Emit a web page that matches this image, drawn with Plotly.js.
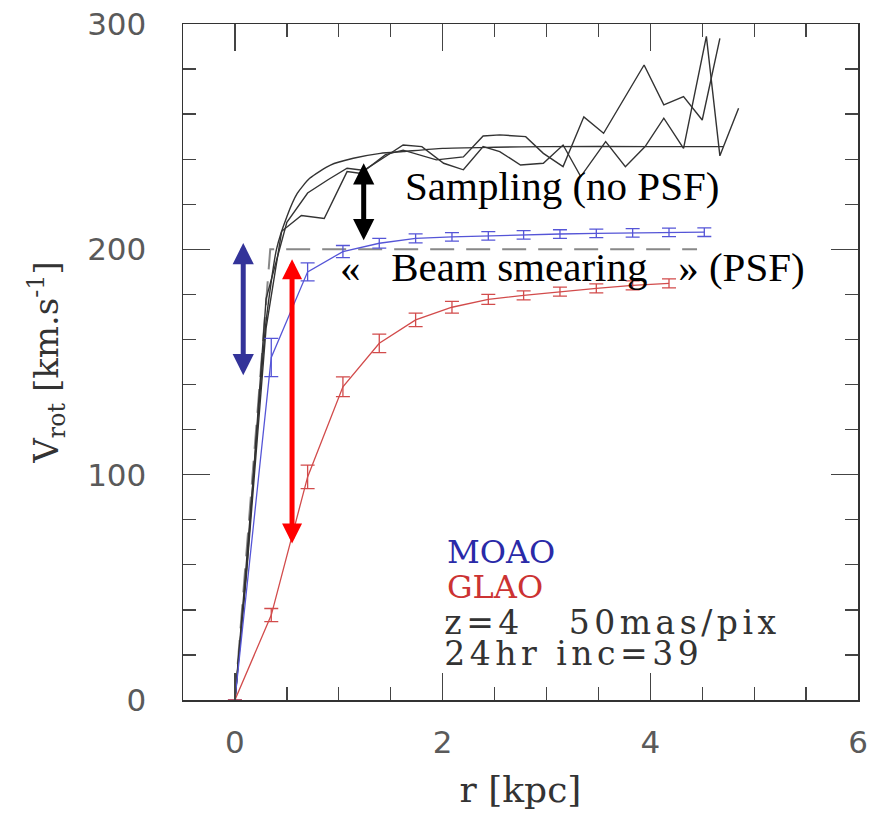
<!DOCTYPE html>
<html><head><meta charset="utf-8">
<script src="https://cdn.plot.ly/plotly-3.0.1.min.js"></script>
<style>
html,body{margin:0;padding:0;background:#fff}
g.annotation[data-index="7"] text, g.annotation[data-index="8"] text{letter-spacing:4.5px}
</style>
</head><body><div id="chart" style="width:882px;height:814px"></div>
<script>
// ---- data ----
const moaoR   = [0, 0.35, 0.70, 1.04, 1.39, 1.74, 2.09, 2.44, 2.78, 3.13, 3.48, 3.83, 4.18, 4.52];
const moaoV   = [0, 152, 190, 199, 202.7, 204.9, 205.5, 206, 206.4, 206.8, 207.1, 207.3, 207.5, 207.6];
const moaoErr = [0, 8.5, 4, 2.7, 2.2, 2, 1.9, 1.9, 1.9, 1.9, 1.9, 1.9, 1.9, 1.9];

const glaoR   = [0, 0.35, 0.70, 1.04, 1.39, 1.74, 2.09, 2.44, 2.78, 3.13, 3.48, 3.83, 4.18];
const glaoV   = [0, 37.7, 99, 139, 158.3, 168.7, 174.3, 177.8, 179.6, 181.2, 182.7, 184.0, 184.9];
const glaoErr = [0, 2.9, 5.2, 4.4, 4.1, 3.0, 2.6, 2.2, 2, 2, 2, 2, 2];

const modelR = [0, 0.1, 0.2, 0.3, 0.4, 0.5, 0.6, 0.72, 0.92, 1.14, 1.4, 1.62, 2.0, 2.5, 3.0, 4.0, 4.7];
const modelV = [0, 55, 112, 168, 200, 214.5, 224.8, 231.5, 237.4, 240.4, 242.6, 243.4, 244.8, 245.3, 245.6, 245.6, 245.6];

const sampleAR = [0, 0.11, 0.30, 0.45, 0.64, 0.86, 1.08, 1.20, 1.45, 1.62, 1.80, 2.01, 2.20, 2.39, 2.55, 2.75, 2.97, 3.16, 3.33, 3.57, 3.76, 3.95, 4.13, 4.32, 4.54, 4.67, 4.85];
const sampleAV = [0, 55, 165, 208, 215, 213.7, 234.5, 233.8, 241.2, 246.3, 245.6, 238.2, 235.3, 245.6, 243.4, 237.4, 238.2, 246.3, 232.3, 247.8, 236.7, 245.6, 258.2, 244.8, 294.5, 241.5, 262.6];

const sampleBR = [0, 0.12, 0.30, 0.50, 0.70, 0.90, 1.08, 1.25, 1.45, 1.62, 1.94, 2.20, 2.39, 2.55, 2.80, 2.97, 3.16, 3.36, 3.55, 3.94, 4.13, 4.32, 4.50, 4.67];
const sampleBV = [0, 62, 178, 212, 225, 231, 236, 235, 242, 244, 239.7, 241, 250.3, 250.8, 250, 242.6, 236.7, 258.8, 251.5, 281.8, 264.1, 267.8, 257.4, 293.6];

const intrinsicR = [0, 0.34, 4.45];
const intrinsicV = [0, 200, 200];

const xTickVals  = [0, 2, 4, 6];
const xTickText  = ['0', '2', '4', '6'];
const xMinorVals = [-0.5, 0.5, 1, 1.5, 2.5, 3, 3.5, 4.5, 5, 5.5];
const yTickVals  = [0, 100, 200, 300];
const yTickText  = ['0', '100', '200', '300'];
const yMinorVals = [20, 40, 60, 80, 120, 140, 160, 180, 220, 240, 260, 280];

// arrows: [r, vHead, vTail]
const blueArrow  = [0.08, 202.8, 143.5];
const redArrow   = [0.55, 195.6, 68.8];
const blackArrow = [1.24, 238.2, 203.4];

const blueLine = 'rgb(85,85,215)';
const redLine  = 'rgb(210,75,75)';
const blackLine = '#333';

const traces = [
  {x: intrinsicR, y: intrinsicV, mode: 'lines', line: {color: '#888', width: 2, dash: '24px,12px'}},
  {x: modelR, y: modelV, mode: 'lines', line: {color: blackLine, width: 1.4, shape: 'spline', smoothing: 0.6}},
  {x: sampleAR, y: sampleAV, mode: 'lines', line: {color: blackLine, width: 1.4}},
  {x: sampleBR, y: sampleBV, mode: 'lines', line: {color: blackLine, width: 1.4}},
  {x: moaoR, y: moaoV, mode: 'lines', line: {color: blueLine, width: 1.3},
   error_y: {type: 'data', array: moaoErr, visible: true, color: blueLine, thickness: 1.3, width: 7}},
  {x: glaoR, y: glaoV, mode: 'lines', line: {color: redLine, width: 1.3},
   error_y: {type: 'data', array: glaoErr, visible: true, color: redLine, thickness: 1.3, width: 7}}
];

function arrow(a, color, size) {
  return {x: a[0], y: a[1], ax: a[0], ay: a[2], xref: 'x', yref: 'y', axref: 'x', ayref: 'y',
    text: '', showarrow: true, arrowhead: 2, arrowside: 'end+start', startarrowhead: 2,
    arrowsize: size, startarrowsize: size, arrowwidth: 5, arrowcolor: color, standoff: 0, startstandoff: 0};
}

const hersh = 'DejaVu Serif';
const annotations = [
  arrow(blueArrow, '#333399', 0.85),
  arrow(redArrow, '#ff0000', 0.8),
  arrow(blackArrow, '#000', 0.85),
  {text: 'Sampling (no PSF)', x: 1.62, y: 228, xref: 'x', yref: 'y', xanchor: 'left', yanchor: 'middle',
   showarrow: false, font: {family: 'Liberation Serif', size: 41, color: '#000'}},
  {text: '«\u00a0\u00a0\u00a0Beam smearing\u00a0\u00a0\u00a0» (PSF)', x: 0.99, y: 192, xref: 'x', yref: 'y',
   xanchor: 'left', yanchor: 'middle', showarrow: false, font: {family: 'Liberation Serif', size: 41, color: '#000'}},
  {text: 'MOAO', x: 2.02, y: 65.7, xref: 'x', yref: 'y', xanchor: 'left', yanchor: 'middle', showarrow: false,
   font: {family: hersh, size: 32, color: '#2a2aa8'}},
  {text: 'GLAO', x: 2.02, y: 50.2, xref: 'x', yref: 'y', xanchor: 'left', yanchor: 'middle', showarrow: false,
   font: {family: hersh, size: 32, color: '#cc3333'}},
  {text: 'z=4\u00a0\u00a0\u00a050mas/pix', x: 2.02, y: 34.6, xref: 'x', yref: 'y', xanchor: 'left', yanchor: 'middle', showarrow: false,
   xshift: 31, font: {family: hersh, size: 33, color: '#333'}},
  {text: '24hr inc=39', x: 2.02, y: 20.5, xref: 'x', yref: 'y', xanchor: 'left', yanchor: 'middle', showarrow: false,
   xshift: 22, font: {family: hersh, size: 33, color: '#333'}}
];

const axisCommon = {
  showgrid: false, zeroline: false, showline: true, linecolor: '#333', linewidth: 1.5,
  mirror: 'allticks', ticks: 'inside', ticklen: 27, tickwidth: 1.5, tickcolor: '#444',
  tickfont: {family: 'DejaVu Sans', size: 31, color: '#5a5a5a'}
};

const layout = {
  width: 882, height: 814,
  margin: {l: 183, r: 24, t: 24, b: 114},
  paper_bgcolor: '#fff', plot_bgcolor: '#fff', showlegend: false,
  xaxis: Object.assign({}, axisCommon, {
    range: [-0.5, 6], tickmode: 'array', tickvals: xTickVals, ticktext: xTickText,
    minor: {tickmode: 'array', tickvals: xMinorVals, ticks: 'inside', ticklen: 13, tickwidth: 1.3, tickcolor: '#444'},
    ticklabelstandoff: 14,
    title: {text: 'r [kpc]', font: {family: hersh, size: 36, color: '#333'}, standoff: 18}
  }),
  yaxis: Object.assign({}, axisCommon, {
    range: [0, 300], tickmode: 'array', tickvals: yTickVals, ticktext: yTickText,
    minor: {tickmode: 'array', tickvals: yMinorVals, ticks: 'inside', ticklen: 13, tickwidth: 1.3, tickcolor: '#444'},
    ticklabelstandoff: 29,
    title: {text: 'V<sub>rot</sub> [km.s<sup>-1</sup>]', font: {family: hersh, size: 34, color: '#333'}, standoff: 18}
  }),
  annotations: annotations
};

Plotly.newPlot('chart', traces, layout, {displayModeBar: false, staticPlot: true});
</script>
</body></html>
